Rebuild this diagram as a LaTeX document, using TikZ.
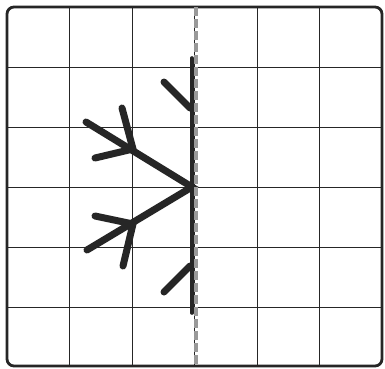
\documentclass[tikz,border=0pt]{standalone}
\begin{document}
\begin{tikzpicture}[x=1pt,y=-1pt,
  gridline/.style={draw=black!85,line width=1pt},
  frame/.style={draw=black!85,line width=2.8pt,rounded corners=7pt},
  stroke/.style={draw=black!85,line width=7pt,line cap=round},
  spine/.style={draw=black!85,line width=3.6pt,line cap=round},
  mirror/.style={draw=black!40,line width=4pt,dash pattern=on 9pt off 3pt}]
\useasboundingbox (0,0) rectangle (385,368);
\fill[white] (0,0) rectangle (385,368);
% grid
\foreach \x in {69.5,132,194.5,257,319.5} \draw[gridline] (\x,7) -- (\x,366);
\foreach \y in {67,127,187,247,307} \draw[gridline] (7,\y) -- (382,\y);
\draw[frame] (7,7) rectangle (382,366);
% figure
\coordinate (apex) at (192,187);
\coordinate (ua) at (86,122);
\coordinate (uv) at (133,149);
\coordinate (la) at (87,250);
\coordinate (lv) at (133,224);
\draw[spine] (192,58) -- (192,313);
\draw[stroke] (ua) -- (apex) -- (la);
\draw[stroke] (122,108) -- (uv) -- (95,158);
\draw[stroke] (95,216) -- (lv) -- (123,266);
\draw[stroke] (164,82) -- (190,108);
\draw[stroke] (164,292) -- (190,266);
\draw[mirror] (195.5,7) -- (195.5,366);
\end{tikzpicture}
\end{document}
